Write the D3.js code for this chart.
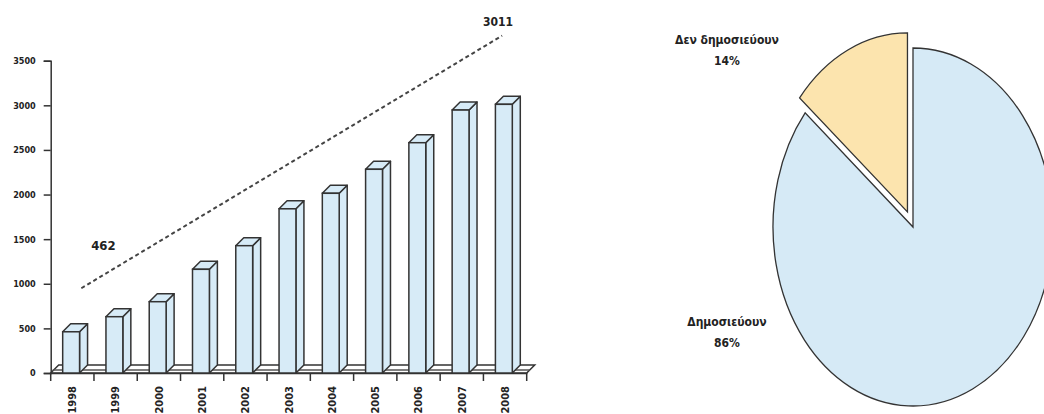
<!DOCTYPE html>
<html>
<head>
<meta charset="utf-8">
<script src="https://cdn.jsdelivr.net/npm/d3@7"></script>
<style>
  body { margin: 0; background: #fff; }
  svg text { font-family: "Liberation Sans Narrow", "DejaVu Sans Condensed", sans-serif; font-weight: bold; fill: #222; }
</style>
</head>
<body>
<div id="chart"></div>
<script>
// bar chart data
const years = ["1998", "1999", "2000", "2001", "2002", "2003", "2004", "2005", "2006", "2007", "2008"];
const counts = [462, 631, 799, 1162, 1427, 1840, 2014, 2283, 2581, 2947, 3011];
const yTicks = [0, 500, 1000, 1500, 2000, 2500, 3000, 3500];
// dashed growth annotation: from first to last year
const trendEnds = [{year: "1998", value: 950, label: "462"}, {year: "2008", value: 3780, label: "3011"}];

// pie data
const pieLabels = ["Δημοσιεύουν", "Δεν δημοσιεύουν"];
const pieValues = [86, 14];
const pieColors = ["#d6eaf6", "#fce4ae"];

const width = 1044, height = 414;
const svg = d3.select("#chart").append("svg")
    .attr("width", width)
    .attr("height", height);

// ---- bar chart ----
const x = d3.scaleBand().domain(years).range([50.7, 526.7]).padding(0);
const y = d3.scaleLinear().domain([0, 3500]).range([373, 60.7]);
const depth = 8;
const bw = x.bandwidth() * 0.39;
const bOff = x.bandwidth() * 0.277;
const barFill = "#d7ebf7";
const stroke = "#333";

// floor
const y0 = y(0);
svg.append("path")
    .attr("d", `M${x.range()[0]},${y0} L${x.range()[1]},${y0} L${x.range()[1] + depth},${y0 - depth} L${x.range()[0] + depth},${y0 - depth} Z`)
    .attr("fill", "#fff").attr("stroke", stroke).attr("stroke-width", 1.5);
svg.append("path")
    .attr("d", `M${x.range()[0] + 2},${y0 - 3} L${x.range()[1] + 3},${y0 - 3}`)
    .attr("stroke", "#555").attr("stroke-width", 1.3);

// y axis
const yAxis = svg.append("g").attr("transform", "translate(50.7,0)")
    .call(d3.axisLeft(y).tickValues(yTicks).tickFormat(d3.format("d")).tickSize(7).tickPadding(8));
yAxis.select(".domain").attr("stroke", stroke).attr("stroke-width", 1.5);
yAxis.selectAll(".tick line").attr("stroke", stroke).attr("stroke-width", 1.5);
yAxis.selectAll("text").attr("font-size", 9).attr("fill", "#222");

// x axis
const xAxis = svg.append("g").attr("transform", `translate(0,${y0})`)
    .call(d3.axisBottom(x).tickSize(0).tickFormat(""));
xAxis.select(".domain").attr("stroke", stroke).attr("stroke-width", 1.5);
xAxis.selectAll(".edge")
    .data(years.map(d => x(d)).concat([x.range()[1]]))
    .enter().append("line")
    .attr("x1", d => d).attr("x2", d => d)
    .attr("y1", 0).attr("y2", 8)
    .attr("stroke", stroke).attr("stroke-width", 1.5);

svg.append("g").selectAll("text")
    .data(years)
    .enter().append("text")
    .attr("transform", d => `translate(${x(d) + x.bandwidth() / 2},${y0 + 13}) rotate(-90)`)
    .attr("text-anchor", "end")
    .attr("dy", "0.35em")
    .attr("font-size", 11)
    .text(d => d);

// bars
const bars = svg.append("g").selectAll("g")
    .data(years.map((yr, i) => ({year: yr, value: counts[i]})))
    .enter().append("g");

bars.append("path") // side
    .attr("d", d => {
        const x0 = x(d.year) + bOff + bw, yt = y(d.value);
        return `M${x0},${yt} L${x0 + depth},${yt - depth} L${x0 + depth},${y0 - depth} L${x0},${y0} Z`;
    })
    .attr("fill", barFill).attr("stroke", stroke).attr("stroke-width", 1.5).attr("stroke-linejoin", "round");

bars.append("path") // top
    .attr("d", d => {
        const x0 = x(d.year) + bOff, yt = y(d.value);
        return `M${x0},${yt} L${x0 + depth},${yt - depth} L${x0 + bw + depth},${yt - depth} L${x0 + bw},${yt} Z`;
    })
    .attr("fill", barFill).attr("stroke", stroke).attr("stroke-width", 1.5).attr("stroke-linejoin", "round");

bars.append("rect") // front
    .attr("x", d => x(d.year) + bOff)
    .attr("y", d => y(d.value))
    .attr("width", bw)
    .attr("height", d => y0 - y(d.value))
    .attr("fill", barFill).attr("stroke", stroke).attr("stroke-width", 1.5);

// dashed annotation line
const tx = d => x(d.year) + x.bandwidth() / 2;
svg.append("line")
    .attr("x1", tx(trendEnds[0]) + 9).attr("y1", y(trendEnds[0].value))
    .attr("x2", tx(trendEnds[1]) - 3).attr("y2", y(trendEnds[1].value))
    .attr("stroke", "#444").attr("stroke-width", 2).attr("stroke-dasharray", "4,3");

svg.append("text")
    .attr("x", tx(trendEnds[0]) + 31).attr("y", y(1380))
    .attr("text-anchor", "middle").attr("font-size", 13)
    .text(trendEnds[0].label);
svg.append("text")
    .attr("x", tx(trendEnds[1]) - 7).attr("y", 26)
    .attr("text-anchor", "middle").attr("font-size", 12)
    .text(trendEnds[1].label);

// ---- pie chart ----
const cx = 913, cy = 227, r = 140, sy = 179 / 140;
const pie = d3.pie().sort(null).value(d => d);
const arc = d3.arc().innerRadius(0).outerRadius(r);
const slices = pie(pieValues);

const pieG = svg.append("g")
    .attr("transform", `translate(${cx},${cy}) scale(1,${sy})`);

pieG.selectAll("path")
    .data(slices)
    .enter().append("path")
    .attr("transform", (d, i) => {
        if (i === 0) return null;
        const mid = (d.startAngle + d.endAngle) / 2, off = 13;
        return `translate(${Math.sin(mid) * off},${-Math.cos(mid) * off})`;
    })
    .attr("d", arc)
    .attr("fill", (d, i) => pieColors[i])
    .attr("stroke", stroke)
    .attr("stroke-width", 1.3)
    .attr("vector-effect", "non-scaling-stroke");

// pie labels
const labelPos = [{x: 727, y: 326}, {x: 727, y: 44}];
const pieText = svg.append("g").selectAll("text")
    .data(slices)
    .enter().append("text")
    .attr("x", (d, i) => labelPos[i].x)
    .attr("y", (d, i) => labelPos[i].y)
    .attr("text-anchor", "middle")
    .attr("font-size", 12);
pieText.append("tspan").text((d, i) => pieLabels[i]);
pieText.append("tspan")
    .attr("x", (d, i) => labelPos[i].x)
    .attr("dy", 21)
    .text(d => d.data + "%");
</script>
</body>
</html>
